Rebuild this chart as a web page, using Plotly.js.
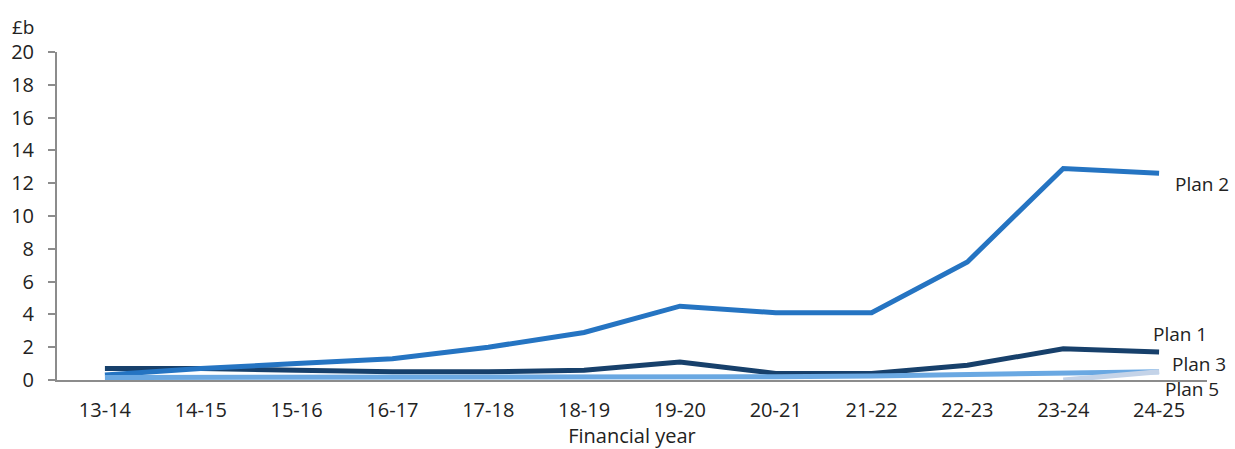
<!DOCTYPE html>
<html>
<head>
<meta charset="utf-8">
<script src="https://cdn.plot.ly/plotly-3.0.1.min.js"></script>
<style>html,body{margin:0;padding:0;background:#fff;}#chart{width:1235px;height:449px;}</style>
</head>
<body>
<div id="chart"></div>
<script>
const years = ["13-14","14-15","15-16","16-17","17-18","18-19","19-20","20-21","21-22","22-23","23-24","24-25"];
const plan1 = [0.7,0.7,0.6,0.5,0.5,0.6,1.1,0.4,0.4,0.9,1.9,1.7];
const plan2 = [0.3,0.7,1.0,1.3,2.0,2.9,4.5,4.1,4.1,7.2,12.9,12.6];
const plan3 = [0.15,0.15,0.15,0.15,0.15,0.15,0.15,0.2,0.25,0.32,0.45,0.5];
const plan5 = [null,null,null,null,null,null,null,null,null,null,0.0,0.5];
const yTicks = [0,2,4,6,8,10,12,14,16,18,20];

const font = "Open Sans, Noto Sans, sans-serif";
const fs = 21;
function tr(name, y, color){
  return {x: years, y: y, name: name, type: "scatter", mode: "lines",
          line: {color: color, width: 5}, connectgaps: false, hoverinfo: "skip"};
}
const data = [
  tr("Plan 1", plan1, "#17406b"),
  tr("Plan 2", plan2, "#2574c2"),
  tr("Plan 3", plan3, "#6aa8e2"),
  tr("Plan 5", plan5, "#c4d3e8")
];
const last = years.length - 1;
const annotations = [
  {x: years[last], y: plan2[last], text: "Plan 2", xshift: 14, yshift: -11, xanchor: "left"},
  {x: years[last], y: plan1[last], text: "Plan 1", xshift: -8, yshift: 18, xanchor: "left"},
  {x: years[last], y: plan3[last], text: "Plan 3", xshift: 11, yshift: 8, xanchor: "left"},
  {x: years[last], y: plan5[last], text: "Plan 5", xshift: 4, yshift: -17, xanchor: "left"}
].map(a => Object.assign(a, {xref: "x", yref: "y", showarrow: false, yanchor: "middle",
      font: {family: font, size: fs - 2, color: "#222"}}));
annotations.push({xref: "paper", yref: "paper", x: -0.041, y: 1.03, xanchor: "left", yanchor: "bottom",
  text: "£b", showarrow: false, font: {family: font, size: fs - 2, color: "#222"}});

const layout = {
  width: 1235, height: 449,
  margin: {l: 57, r: 28, t: 52, b: 69},
  paper_bgcolor: "#fff", plot_bgcolor: "#fff",
  showlegend: false,
  font: {family: font, size: fs, color: "#222"},
  xaxis: {type: "category", range: [-0.5, 11.5], showgrid: false, zeroline: false,
          showline: true, linecolor: "#8c8c8c", linewidth: 2, ticks: "", ticklabelstandoff: 11,
          tickfont: {family: font, size: fs - 1, color: "#222"},
          title: {text: "Financial year", standoff: 4, font: {family: font, size: fs - 1, color: "#222"}}},
  yaxis: {range: [0, 20], tickvals: yTicks, showgrid: false, zeroline: false,
          showline: true, linecolor: "#8c8c8c", linewidth: 2, ticks: "outside", ticklen: 7,
          tickcolor: "#8c8c8c", tickwidth: 2, ticklabelstandoff: 10,
          tickfont: {family: font, size: fs - 1, color: "#222"}},
  annotations: annotations
};
Plotly.newPlot("chart", data, layout, {staticPlot: true});
</script>
</body>
</html>
